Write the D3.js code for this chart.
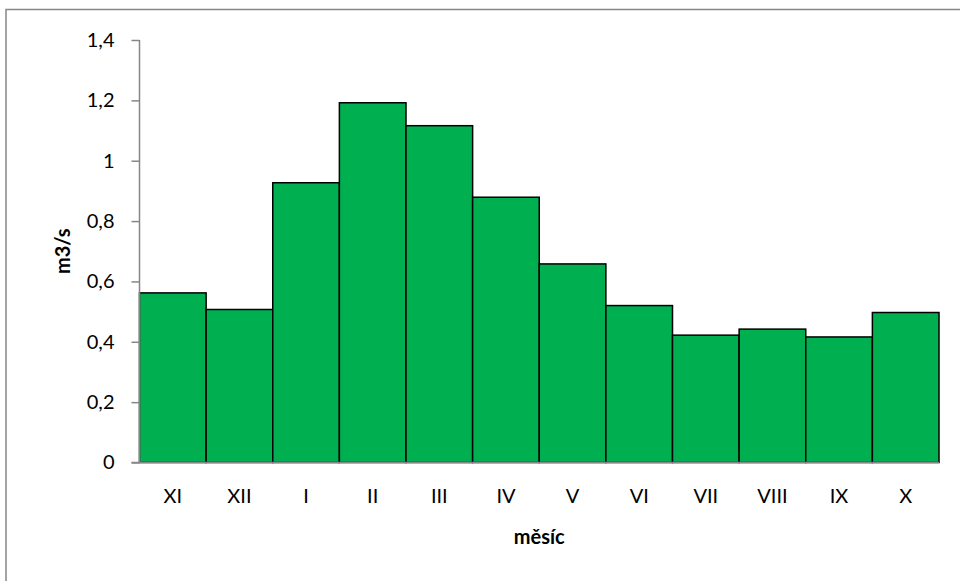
<!DOCTYPE html>
<html><head><meta charset="utf-8">
<script src="https://cdn.jsdelivr.net/npm/d3@7"></script>
<style>body{margin:0;background:#fff;} text{font-family:Lato,"Open Sans",sans-serif;}</style>
</head><body><svg id="c" width="960" height="581"></svg>
<script>
const months = ["XI","XII","I","II","III","IV","V","VI","VII","VIII","IX","X"];
const flow = [0.562,0.507,0.927,1.192,1.116,0.879,0.658,0.520,0.422,0.442,0.416,0.497];
const yTicks = [0,0.2,0.4,0.6,0.8,1,1.2,1.4];
const yTitle = "m3/s", xTitle = "měsíc";

const svg = d3.select("#c");
svg.append("rect").attr("x",6).attr("y",9.5).attr("width",970).attr("height",600)
  .attr("fill","#fff").attr("stroke","#868686").attr("stroke-width",1.5);

const L=139.5, R=939, T=40, B=462.5;
const x = d3.scaleBand().domain(months).range([L,R]).padding(0);
const y = d3.scaleLinear().domain([0,1.4]).range([B,T]);

svg.append("g").selectAll("rect").data(flow).join("rect")
  .attr("x",(d,i)=>x(months[i])).attr("y",d=>y(d))
  .attr("width",x.bandwidth()).attr("height",d=>B-y(d))
  .attr("fill","#00B050").attr("stroke","#000").attr("stroke-width",1.5);

const fmt = d=>String(d).replace(".",",");
const ya = svg.append("g").attr("transform",`translate(${L},0)`)
  .call(d3.axisLeft(y).tickValues(yTicks).tickFormat(fmt).tickSize(8).tickPadding(17));
ya.select(".domain").attr("stroke","#868686").attr("stroke-width",1.5).attr("d",`M0,${T}V${B}`);
ya.selectAll(".tick line").attr("stroke","#868686").attr("stroke-width",1.5);
ya.selectAll("text").attr("font-size",20).attr("fill","#000");

const xa = svg.append("g").attr("transform",`translate(0,${B})`)
  .call(d3.axisBottom(x).tickSize(0).tickPadding(26));
xa.select(".domain").attr("stroke","#868686").attr("stroke-width",1.5).attr("d",`M${L-8},0H${R}`);
xa.selectAll("text").attr("font-size",20).attr("fill","#000");

svg.append("text").attr("transform",`translate(70,${(T+B)/2}) rotate(-90)`)
  .attr("text-anchor","middle").attr("font-size",20).attr("font-weight","bold").text(yTitle);
svg.append("text").attr("x",(L+R)/2).attr("y",544).attr("text-anchor","middle")
  .attr("font-size",20).attr("font-weight","bold").text(xTitle);
</script></body></html>
